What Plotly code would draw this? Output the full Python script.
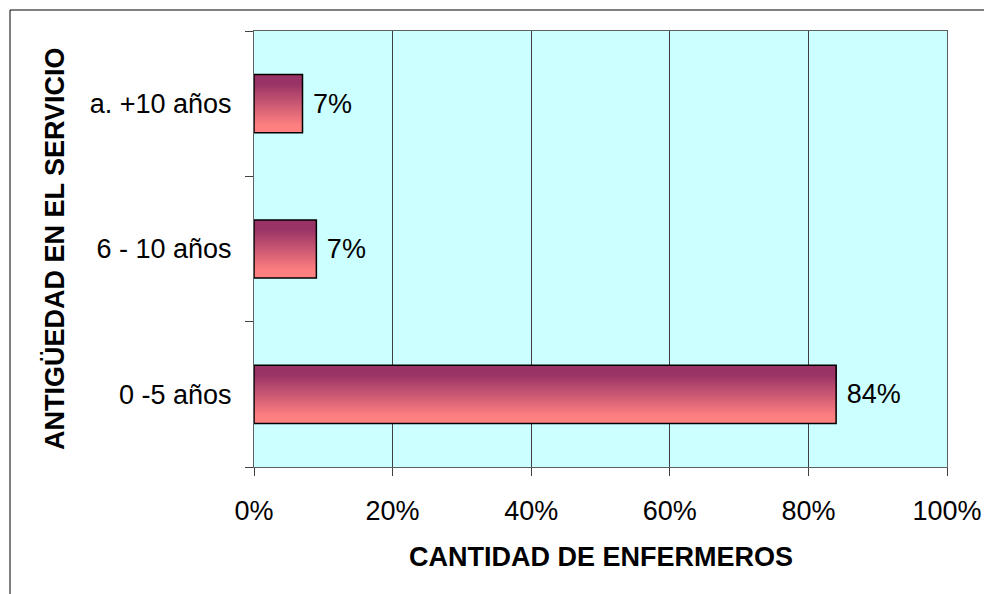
import plotly.graph_objects as go

# Data
categorias = ["0 -5 años", "6 - 10 años", "a. +10 años"]
porcentajes = [84, 9, 7]
etiquetas = ["84%", "7%", "7%"]
ticks_x = [0, 20, 40, 60, 80, 100]
ticks_x_texto = ["0%", "20%", "40%", "60%", "80%", "100%"]


def mezcla(c1, c2, t):
    return "rgb({},{},{})".format(*[round(a + (b - a) * t) for a, b in zip(c1, c2)])


fig = go.Figure()

# gradient fill: each layer starts a bit higher and runs to the top of the bar
arriba = (153, 51, 102)
abajo = (255, 128, 128)
ancho = 0.4
pasos = 40
for i in range(pasos):
    t = i / (pasos - 1)
    t_color = min(1.0, max(0.0, (1 - t) * 1.35 - 0.2))
    inicio = -ancho / 2 + i * ancho / pasos
    fig.add_trace(go.Bar(
        y=categorias, x=porcentajes, orientation="h",
        width=ancho / 2 - inicio, offset=inicio,
        marker=dict(color=mezcla(arriba, abajo, t_color), line=dict(width=0)),
        hoverinfo="skip", showlegend=False,
    ))

# outline + labels
fig.add_trace(go.Bar(
    y=categorias, x=porcentajes, orientation="h",
    width=ancho, offset=-ancho / 2,
    marker=dict(color="rgba(0,0,0,0)", line=dict(color="black", width=1.5)),
    text=etiquetas, texttemplate=" %{text}", textposition="outside",
    cliponaxis=False,
    textfont=dict(family="Liberation Sans, Arial", size=27, color="black"),
    showlegend=False,
))

# the page body adds ~8px of margin, so the canvas is a bit smaller
fig.update_layout(
    width=984, height=586,
    barmode="overlay",
    plot_bgcolor="#CCFFFF",
    paper_bgcolor="white",
    margin=dict(l=246, r=45, t=23, b=127),
    font=dict(family="Liberation Sans, Arial", size=27, color="black"),
    xaxis=dict(
        range=[0, 100], tickvals=ticks_x, ticktext=ticks_x_texto,
        showgrid=True, gridcolor="#404040", gridwidth=1,
        ticks="outside", ticklen=8, tickcolor="#404040",
        showline=True, linecolor="#606060", mirror=True, zeroline=False,
        ticklabelstandoff=12, automargin=False,
        tickfont=dict(size=27),
    ),
    yaxis=dict(
        categoryorder="array", categoryarray=categorias,
        showgrid=False, tickson="boundaries",
        ticks="outside", ticklen=8, tickcolor="#404040",
        showline=True, linecolor="#606060", mirror=True,
        ticklabelstandoff=16, automargin=False,
        tickfont=dict(size=27),
    ),
    annotations=[
        dict(text="<b>CANTIDAD DE ENFERMEROS</b>", xref="paper", yref="paper",
             x=0.5, y=-(557 - 467) / 436, showarrow=False,
             xanchor="center", yanchor="middle", font=dict(size=27)),
        dict(text="<b>ANTIGÜEDAD EN EL SERVICIO</b>", xref="paper", yref="paper",
             x=(55 - 254) / 693, y=0.5, showarrow=False, textangle=-90,
             xanchor="center", yanchor="middle", font=dict(size=27)),
    ],
    shapes=[dict(type="rect", xref="paper", yref="paper",
                 x0=(10 - 254) / 693, x1=1.2, y0=-0.5, y1=1 + 21 / 436,
                 line=dict(color="black", width=1), layer="below")],
)

fig.write_html("out.html")
